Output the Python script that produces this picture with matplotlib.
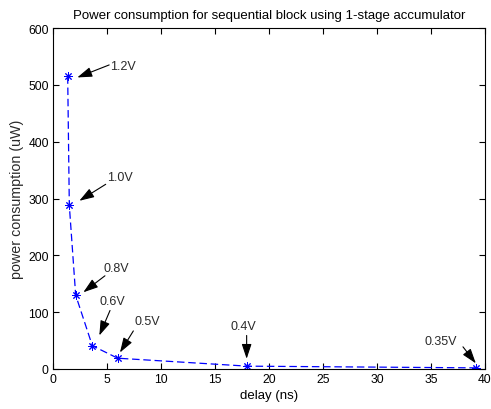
import matplotlib
matplotlib.use("Agg")
import matplotlib.pyplot as plt

plt.rcParams['font.family'] = ['Liberation Sans', 'DejaVu Sans']

# Data
delay_ns = [1.36, 1.51, 2.1, 3.64, 5.99, 18.0, 39.2]
power_uw = [515, 288, 130, 41, 19, 5, 2]
voltages = ['1.2V', '1.0V', '0.8V', '0.6V', '0.5V', '0.4V', '0.35V']

# annotation text positions (data coords), arrow tails and heads
text_pos = [(5.3, 534), (4.99, 338), (4.72, 178), (4.26, 119), (7.59, 84), (16.4, 75), (34.44, 50)]
arrow_tail = [(5.2, 535), (4.88, 325), (4.81, 164), (5.28, 103), (7.44, 67), (17.93, 59), (37.96, 39)]
arrow_head = [(2.25, 513), (2.44, 296), (2.81, 135), (4.29, 59), (6.2, 29), (17.93, 18), (39.15, 10)]

x_ticks = [0, 5, 10, 15, 20, 25, 30, 35, 40]
y_ticks = [0, 100, 200, 300, 400, 500, 600]

fig = plt.figure(figsize=(4.91, 4.10), dpi=100)
ax = fig.add_axes([53/491, 40/410, 432/491, 341/410])

ax.plot(delay_ns, power_uw, linestyle=(0, (6, 3)), color='#0000ff', linewidth=0.9,
        marker=(8, 2, 0), markersize=6, markeredgewidth=0.7)

for lab, tp, tail, head in zip(voltages, text_pos, arrow_tail, arrow_head):
    ax.text(tp[0], tp[1], lab, ha='left', va='center', fontsize=9, color='#2a2a2a')
    ax.annotate('', xy=head, xytext=tail,
                arrowprops=dict(arrowstyle='-|>,head_length=0.9,head_width=0.3',
                                color='black', lw=0.8, shrinkA=0, shrinkB=0))

ax.set_xlim(0, 40)
ax.set_ylim(0, 600)
ax.set_xticks(x_ticks)
ax.set_yticks(y_ticks)
ax.tick_params(direction='in', length=4, width=0.8, labelsize=8.7, top=True, right=True, pad=3)
for s in ax.spines.values():
    s.set_linewidth(0.8)

ax.set_title('Power consumption for sequential block using 1-stage accumulator', fontsize=9.5, pad=7)
ax.set_xlabel('delay (ns)', fontsize=9.5, labelpad=3)
ax.set_ylabel('power consumption (uW)', fontsize=10.3, labelpad=3, color='#2a2a2a')

fig.savefig('out.png', dpi=100)
